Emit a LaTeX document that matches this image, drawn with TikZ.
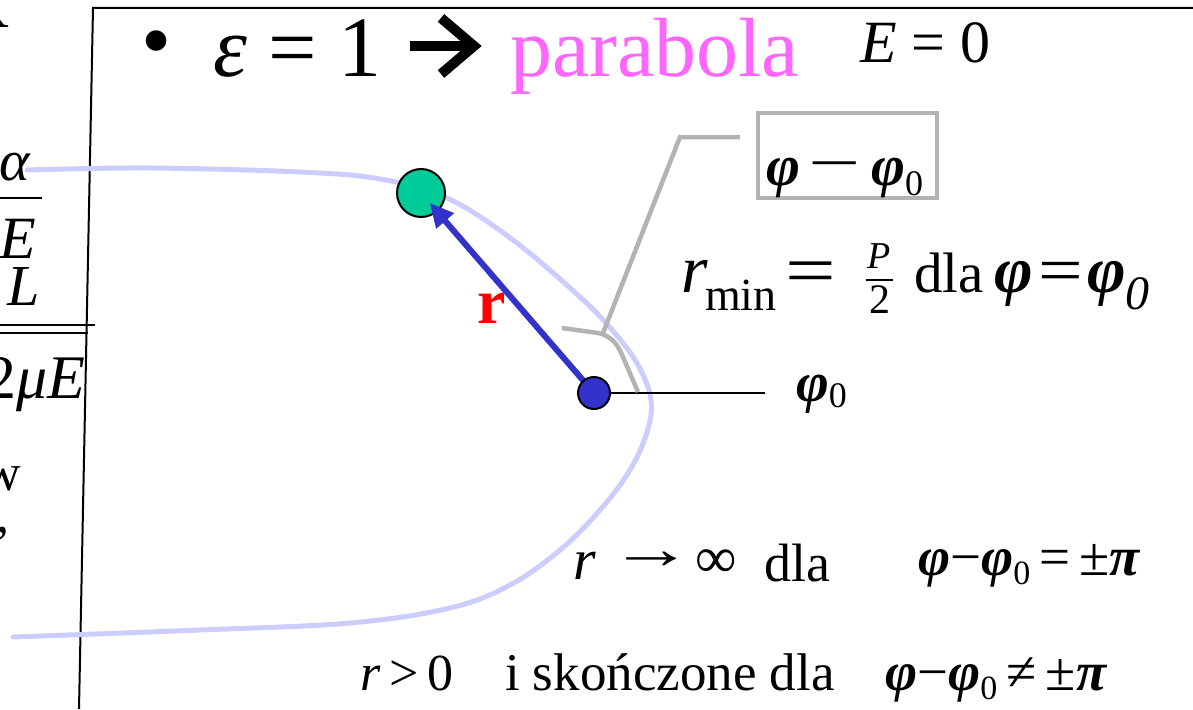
\documentclass[tikz,border=0pt]{standalone}
\usepackage{fontspec}
\setmainfont{Liberation Serif}
\usetikzlibrary{arrows.meta}
\newcommand\fsz[1]{\fontsize{#1}{#1}\selectfont}
\newcommand\bphi{\textbf{\textit{φ}}}
\definecolor{orbit}{HTML}{CCCCFF}
\definecolor{planetc}{HTML}{00CC99}
\definecolor{sunc}{HTML}{3333CC}
\definecolor{callout}{HTML}{B3B3B3}
\definecolor{titlemag}{HTML}{FF66FF}
\begin{document}
\begin{tikzpicture}[x=1pt,y=-1pt,
  txt/.style={inner sep=0pt,outer sep=0pt,anchor=base west},
  txtE/.style={inner sep=0pt,outer sep=0pt,anchor=base east},
  frame/.style={line width=2pt,black},
  orbitline/.style={orbit,line width=5pt,line cap=round},
  grayline/.style={callout,line width=4.5pt},
  rvec/.style={sunc,line width=6pt,-{Triangle[length=24pt,width=22pt]}},
  body/.style={circle,draw=black,line width=2pt,inner sep=0pt}]
\useasboundingbox (0,0) rectangle (1193,709);
\clip (0,0) rectangle (1193,709);

% frame
\draw[frame] (1193,8) -- (93,8) -- (79,709);

% left fragments
\node[txtE] (fK) at (9,28) {\fsz{62}K};
\node[txtE] (fa) at (30,180) {\fsz{58}\itshape α};
\draw[line width=2.5pt] (0,198) -- (42,198);
\node[txtE] (fE) at (36,258) {\fsz{60}\itshape E};
\node[txtE] (fL) at (40,305) {\fsz{58}\itshape L};
\draw[line width=2.5pt] (0,325) -- (95,325);
\draw[line width=2.5pt] (0,333) -- (88,333);
\node[txtE] (f2) at (85,398) {\fsz{62}2\itshape μE};
\node[txtE] (fw) at (21,490) {\fsz{52}w};
\node[txtE] (fc) at (10,532) {\fsz{52},};

% title
\node[inner sep=0pt,outer sep=0pt] (bul) at (157,50) {\fsz{86}•};
\node[txt] (eps) at (213,76) {\fsz{86}\textit{ε} = 1};
\draw[line width=10pt] (410,46) -- (470,46);
\draw[line width=10pt,miter limit=10] (441,18) -- (474,46) -- (441,74);
\node[txt,text=titlemag] (para) at (510,76) {\fsz{84}parabola};
\node[txt] (E0) at (860,63) {\fsz{60}\textit{E} = 0};

% orbit
\draw[orbitline] plot[smooth,tension=0.6] coordinates {(27,170) (150,168) (300,172) (380,179) (447,198) (513,240) (580,297) (613,331) (638,365) (651,400) (647,432) (630,470) (600,510) (560,550) (510,585) (450,608) (350,623) (200,630) (13,637)};

% bodies and radius vector
\coordinate (S) at (594,393);
\coordinate (G) at (421,193);
\node[body,fill=planetc,minimum size=48pt] (planet) at (G) {};
\draw[rvec,shorten >=13pt] (S) -- (planet.center);
\draw[line width=2pt] (S) -- (765,393);
\node[body,fill=sunc,minimum size=32pt] (sun) at (S) {};
\node[txt,text=red] (rlab) at (477,323) {\fsz{64}\bfseries r};

% angle callout
\node[draw=callout,line width=4pt,minimum width=179pt,minimum height=85pt,inner sep=0pt] (box) at (847.5,155.5) {};
\node[txt] (phidiff) at (766,185) {\fsz{58}\bphi\hspace{9pt}\raisebox{3pt}{\scalebox{1.6}[1]{−}}\hspace{10pt}\bphi\raisebox{-10pt}{\fsz{36}0}};
\draw[grayline] (740,137) -- (680,137) -- (603,333);
\draw[grayline] (562,328) -- (598,333) .. controls (612,336) and (618,345) .. (623,357) -- (638,392);
\node[txt] (phi0) at (796,401) {\fsz{56}\bphi\raisebox{-6pt}{\fsz{36}0}};

% r_min
\node[txt] (rr) at (681,292) {\fsz{68}\itshape r};
\node[txt] (rmin) at (705,310) {\fsz{46}min};
\node[txt] (req) at (785,294) {\fsz{62}\scalebox{1.45}[1.15]{=}};
\node[txt] (P) at (867,268) {\fsz{38}\itshape P};
\draw[line width=2pt] (866,280) -- (893,280);
\node[txt] (two) at (869,313) {\fsz{42}2};
\node[txt] (dla1) at (914,292) {\fsz{57}dla};
\node[txt] (cond1) at (994,292) {\fsz{66}\bphi\hspace{6pt}\scalebox{1.2}[1]{=}\hspace{4pt}\bphi\raisebox{-17pt}{\fsz{48}\itshape 0}};

% r -> infinity
\node[txt] (rinf) at (573,579) {\fsz{58}\textit{r}\hspace{14pt}\raisebox{11pt}{\scalebox{1.45}[1]{→}}\hspace{2pt}\raisebox{2pt}{∞}};
\node[txt] (dla2) at (764,581) {\fsz{54}dla};
\node[txt] (cond2) at (918,575) {\fsz{55}\bphi−\bphi\raisebox{-9pt}{\fsz{34}0}\,=\,±\textbf{\textit{π}}};

% r > 0
\node[txt] (rpos) at (360,690) {\fsz{52}\textit{r}\,>\,0};
\node[txt] (fin) at (505,690) {\fsz{53}i skończone dla};
\node[txt] (cond3) at (885,690) {\fsz{55}\bphi−\bphi\raisebox{-9pt}{\fsz{34}0}\,≠\,±\textbf{\textit{π}}};
\end{tikzpicture}
\end{document}
